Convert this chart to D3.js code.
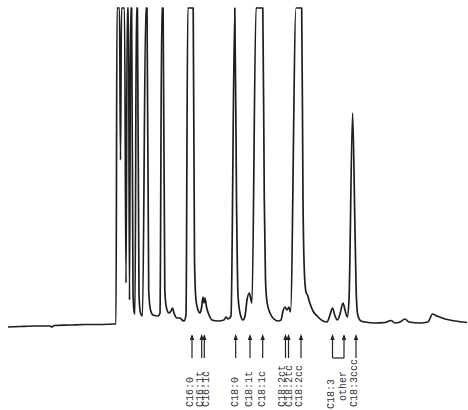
<!DOCTYPE html>
<html>
<head>
<meta charset="utf-8">
<script src="https://cdn.jsdelivr.net/npm/d3@7"></script>
<style>
html,body{margin:0;padding:0;background:#fff;}
svg{display:block;}
</style>
</head>
<body>
<svg id="chart" width="468" height="410"></svg>
<script>
// Retention time (min) and detector response (arbitrary units, pen clips at 320)
const time = [
  0.0, 1.2, 2.7, 4.2, 4.4, 4.6, 6.2, 7.7, 9.2, 10.7, 10.8,
  10.9, 11.15, 11.25, 11.35, 11.65, 11.8, 11.93, 12.05, 12.15,
  12.26, 12.36, 12.5, 12.6, 12.7,
  12.84, 12.94, 13.1, 13.25, 13.45,
  13.78, 13.9, 14.07, 14.25, 14.5, 15.0, 15.2,
  15.38, 15.51, 15.68, 15.85, 16.1,
  16.3, 16.45, 16.6, 16.9, 17.2, 17.4, 17.6, 17.8,
  17.98, 18.52, 18.65, 18.8, 19.0, 19.2,
  19.35, 19.5, 19.6, 19.7, 19.85, 20.1, 20.4, 21.0, 21.6, 21.8, 22.0, 22.3,
  22.68, 22.85, 23.0, 23.2, 23.5, 23.7,
  23.9, 24.13, 24.3, 24.4,
  24.8, 25.48, 25.63, 25.75, 25.9, 26.2, 26.6, 27.0, 27.3,
  27.5, 27.7, 27.9, 28.1, 28.25,
  28.8, 29.37, 29.5, 29.65, 29.8, 29.95, 30.15, 30.5, 31.0, 31.5, 31.9,
  32.2, 32.45, 32.7, 32.95, 33.2, 33.5, 33.7, 33.93,
  34.1, 34.46, 34.7, 34.85, 35.0, 35.3, 35.7,
  36.7, 37.7, 38.3, 38.7, 39.2, 39.7, 40.1, 41.2, 42.0, 42.45, 42.9, 43.7, 44.7, 45.9
];
const signal = [
  1, 1.5, 2, 2, 1, 2.5, 3, 3.5, 3.5, 4, 4,
  320, 320, 168, 320, 320, 45, 320, 320, 28,
  320, 320, 38, 17, 14,
  320, 320, 33, 15, 12,
  320, 320, 38, 18, 13, 12, 15,
  320, 320, 38, 20, 15,
  17, 20, 15, 10, 10, 8, 7, 13,
  320, 320, 68, 28, 18, 15,
  20, 31, 25, 30, 21, 13, 8, 7, 8, 11, 9, 12,
  320, 128, 33, 15, 8, 12,
  28, 35, 28, 25,
  320, 320, 128, 48, 26, 15, 9, 7, 8,
  17, 21, 18, 21, 16,
  320, 320, 128, 53, 36, 33, 26, 17, 11, 7, 6,
  13, 20, 12, 8, 14, 25, 18, 11,
  28, 215, 98, 28, 12, 7, 6,
  5, 5.5, 7.5, 5, 6, 9, 6, 5, 6, 14, 12, 9, 7, 5.5
];
// Identified peaks
const peakLabels = ["C16:0", "C16:1t", "C16:1c", "C18:0", "C18:1t", "C18:1c",
  "C18:2ct", "C18:2tc", "C18:2cc", "C18:3", "other", "C18:3ccc"];
const peakTimes = [18.4, 19.37, 19.63, 22.77, 24.2, 25.47,
  27.75, 28.05, 29.3, 32.45, 33.6, 34.8];
const bracketPair = ["C18:3", "other"];

// ---- drawing ----
const svg = d3.select("#chart");
const x = d3.scaleLinear().domain([0, 46]).range([8, 468]);
const y = d3.scaleLinear().domain([0, 320]).range([328, 8]);

const pts = time.map((t, i) => [t, signal[i]]);
const line = d3.line().x(d => x(d[0])).y(d => y(d[1])).curve(d3.curveMonotoneX);

svg.append("path")
  .attr("d", line(pts))
  .attr("fill", "none")
  .attr("stroke", "#1e1e1e")
  .attr("stroke-width", 1.7)
  .attr("stroke-linejoin", "round");

// arrows
const tipY = 334, tailY = 358;
const g = svg.append("g").attr("stroke", "#222").attr("fill", "#222");
peakTimes.forEach((t, i) => {
  const px = x(t);
  g.append("line").attr("x1", px).attr("x2", px).attr("y1", tipY + 3).attr("y2", tailY)
    .attr("stroke-width", 1.2);
  g.append("path")
    .attr("d", `M${px},${tipY} L${px - 2.2},${tipY + 6} L${px + 2.2},${tipY + 6} Z`)
    .attr("stroke", "none");
});
// bracket joining C18:3 and other
const bi = bracketPair.map(l => x(peakTimes[peakLabels.indexOf(l)]));
g.append("line").attr("x1", bi[0]).attr("x2", bi[1]).attr("y1", tailY).attr("y2", tailY)
  .attr("stroke-width", 1.2);

// labels (rotated, reading upward)
const nudgeX = {"C16:0": -2, "C16:1t": -2, "C16:1c": 1, "C18:0": -1, "C18:1t": -1, "C18:1c": -1,
  "C18:2ct": -3.5, "C18:2tc": 0.5, "C18:2cc": -2.5, "C18:3": -1.5, "other": -1.5, "C18:3ccc": -2.5};
const bottomY = {"C18:3": 409, "other": 401};
peakLabels.forEach((lab, i) => {
  const cx = x(peakTimes[i]) + (nudgeX[lab] || 0) + 3.3;
  const by = bottomY[lab] || 407;
  svg.append("text")
    .attr("transform", `translate(${cx},${by}) rotate(-90)`)
    .attr("text-anchor", "start")
    .attr("font-family", "'Liberation Mono', 'DejaVu Sans Mono', monospace")
    .attr("font-size", 10)
    .attr("fill", "#333")
    .text(lab);
});
</script>
</body>
</html>
